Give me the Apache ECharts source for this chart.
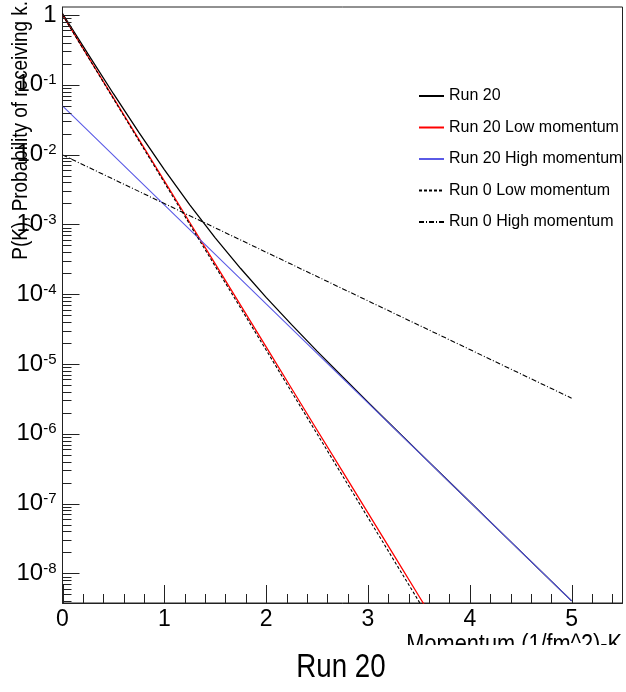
<!DOCTYPE html>
<html><head><meta charset="utf-8">
<script src="https://cdn.jsdelivr.net/npm/echarts@6/dist/echarts.min.js"></script>
<style>html,body{margin:0;padding:0;background:#fff}#c{width:626px;height:692px}</style>
</head><body><div id="c"></div>
<script>
// ---- data ----
const momentum   = [0, 0.25, 0.5, 0.75, 1, 1.25, 1.5, 1.75, 2, 2.25, 2.5, 2.75, 3, 3.25, 3.5, 3.75, 4, 4.25, 4.5, 4.75, 5];
const run20      = [1.05, 0.2763, 0.0744, 0.02075, 6.09e-3, 1.904e-3, 6.42e-4, 2.33e-4, 9.0e-5, 3.66e-5, 1.53e-5, 6.55e-6, 2.84e-6, 1.243e-6, 5.46e-7, 2.405e-7, 1.061e-7, 4.68e-8, 2.07e-8, 9.14e-9, 4.04e-9];
const run20Low   = [1.0, 0.2543, 0.0647, 0.01646, 4.19e-3, 1.065e-3, 2.71e-4, 6.90e-5, 1.754e-5, 4.46e-6, 1.135e-6, 2.89e-7, 7.35e-8, 1.87e-8, 4.75e-9, 1.21e-9, null, null, null, null, null];
const run20High  = [0.0497, 0.02196, 0.00971, 0.004293, 0.001898, 8.39e-4, 3.71e-4, 1.64e-4, 7.25e-5, 3.21e-5, 1.417e-5, 6.26e-6, 2.77e-6, 1.224e-6, 5.41e-7, 2.393e-7, 1.058e-7, 4.676e-8, 2.07e-8, 9.14e-9, 4.04e-9];
const run0Low    = [1.0, 0.2512, 0.0631, 0.01585, 3.98e-3, 1.0e-3, 2.51e-4, 6.31e-5, 1.585e-5, 3.98e-6, 1.0e-6, 2.51e-7, 6.31e-8, 1.585e-8, 3.98e-9, 1.0e-9, null, null, null, null, null];
const run0High   = [0.0099, 0.006627, 0.004436, 0.00297, 0.001989, 0.001331, 8.92e-4, 5.97e-4, 3.996e-4, 2.675e-4, 1.791e-4, 1.199e-4, 8.03e-5, 5.37e-5, 3.60e-5, 2.41e-5, 1.613e-5, 1.08e-5, 7.23e-6, 4.84e-6, 3.24e-6];
const seriesNames = ['Run 20', 'Run 20 Low momentum', 'Run 20 High momentum', 'Run 0 Low momentum', 'Run 0 High momentum'];
const xTickValues = [0, 1, 2, 3, 4, 5];
const yTickExponents = [0, -1, -2, -3, -4, -5, -6, -7, -8];
const xRange = [0, 5.5];
const yRange = [3.77e-9, 1.30];
const chartTitle = 'Run 20';
const xTitle = 'Momentum (1/fm^2)-K';
const yTitle = 'P(K), Probability of receiving k.';

// ---- build ----
const FONT = "'Liberation Sans', Arial, Helvetica, sans-serif";
const lg = v => Math.log10(v);
const yMinL = lg(yRange[0]), yMaxL = lg(yRange[1]);
function pairs(vals) {
  const out = [];
  momentum.forEach((x, i) => { if (vals[i] != null) out.push([x, lg(vals[i])]); });
  return out;
}
// tick marks: [x, y, kind]  kind 0 = x major, 1 = x minor, 2 = y major, 3 = y minor
const tickData = [];
xTickValues.forEach(v => tickData.push([v, yMinL, 0]));
for (let i = 1; i * 0.2 < xRange[1]; i++) { const v = Math.round(i * 2) / 10; if (Math.abs(v - Math.round(v)) > 1e-9) tickData.push([v, yMinL, 1]); }
yTickExponents.forEach(e => tickData.push([xRange[0], e, 2]));
for (let e = -9; e <= 0; e++) for (let k = 2; k <= 9; k++) { const v = e + Math.log10(k); if (v > yMinL && v < yMaxL) tickData.push([xRange[0], v, 3]); }
const tickLen = [18, 9, 17, 9];

const axisColor = '#222';
const chart = echarts.init(document.getElementById('c'), null, {renderer: 'canvas'});
const styles = [
  {color: '#000000', width: 1.3, type: 'solid'},
  {color: '#ff0000', width: 1.3, type: 'solid'},
  {color: '#5a5ae6', width: 1.1, type: 'solid'},
  {color: '#000000', width: 1.1, type: [3, 2]},
  {color: '#000000', width: 1.1, type: [5, 2, 1, 2]}
];
const allData = [run20, run20Low, run20High, run0Low, run0High];
const lineSeries = seriesNames.map((n, i) => ({
  name: n, type: 'line', data: pairs(allData[i]),
  symbol: 'none', showSymbol: false, silent: true, clip: true, z: 2 + i,
  lineStyle: styles[i], itemStyle: {color: styles[i].color}
}));
const tickSeries = {
  name: 'axis ticks', type: 'custom', data: tickData, encode: {x: 0, y: 1}, clip: false, silent: true, z: 20,
  renderItem: (params, api) => {
    const kind = api.value(2);
    const p = api.coord([api.value(0), api.value(1)]);
    const L = tickLen[kind];
    const isX = kind < 2;
    const x = isX ? Math.round(p[0]) + 0.5 : p[0];
    const y = isX ? p[1] : Math.round(p[1]) + 0.5;
    return {type: 'line', shape: isX ? {x1: x, y1: y, x2: x, y2: y - L} : {x1: x, y1: y, x2: x + L, y2: y},
            style: {stroke: axisColor, lineWidth: 1}};
  }
};
chart.setOption({
  animation: false,
  backgroundColor: '#fff',
  grid: {left: 62.5, top: 7, width: 560, height: 596, show: true, borderColor: axisColor, borderWidth: 1, backgroundColor: 'transparent'},
  xAxis: {type: 'value', min: xRange[0], max: xRange[1], position: 'bottom',
     axisLine: {show: true, onZero: false, lineStyle: {color: axisColor, width: 1}},
     axisTick: {show: false},
     axisLabel: {show: true, customValues: xTickValues, margin: 5, color: '#000', fontSize: 23, fontFamily: FONT},
     splitLine: {show: false}},
  yAxis: {type: 'value', min: yMinL, max: yMaxL, position: 'left',
     axisLine: {show: true, onZero: false, lineStyle: {color: axisColor, width: 1}},
     axisTick: {show: false},
     axisLabel: {show: true, customValues: yTickExponents, margin: 6, color: '#000',
       formatter: v => { const e = Math.round(v); return e === 0 ? '{b|1}' : '{b|10}{s|' + e + '}'; },
       rich: {b: {fontSize: 24, fontFamily: FONT, color: '#000'}, s: {fontSize: 15, fontFamily: FONT, color: '#000', verticalAlign: 'top'}}},
     splitLine: {show: false}},
  legend: {
    orient: 'vertical', left: 418, top: 88, padding: 0, itemWidth: 25, itemHeight: 14, itemGap: 15.5, itemTextGap: 5,
    data: seriesNames, selectedMode: false,
    itemStyle: {opacity: 0},
    textStyle: {fontSize: 16, fontFamily: FONT, color: '#000'}
  },
  series: lineSeries.concat([tickSeries]),
  graphic: [
    {type: 'text', x: 21, y: 1, rotation: Math.PI / 2, scaleX: 0.86, z: 10,
     style: {text: yTitle, fontSize: 22, fontFamily: FONT, fill: '#000', textAlign: 'right', textVerticalAlign: 'middle'}},
    {type: 'text', x: 622, y: 645, scaleX: 0.87, z: 10,
     style: {text: xTitle, fontSize: 25, fontFamily: FONT, fill: '#000', textAlign: 'right', textVerticalAlign: 'middle'}},
    {type: 'rect', shape: {x: 395, y: 645, width: 231, height: 40}, z: 11, style: {fill: '#fff'}},
    {type: 'text', x: 341, y: 668, scaleX: 0.84, z: 12,
     style: {text: chartTitle, fontSize: 33, fontFamily: FONT, fill: '#000', textAlign: 'center', textVerticalAlign: 'middle'}}
  ]
});
</script></body></html>
